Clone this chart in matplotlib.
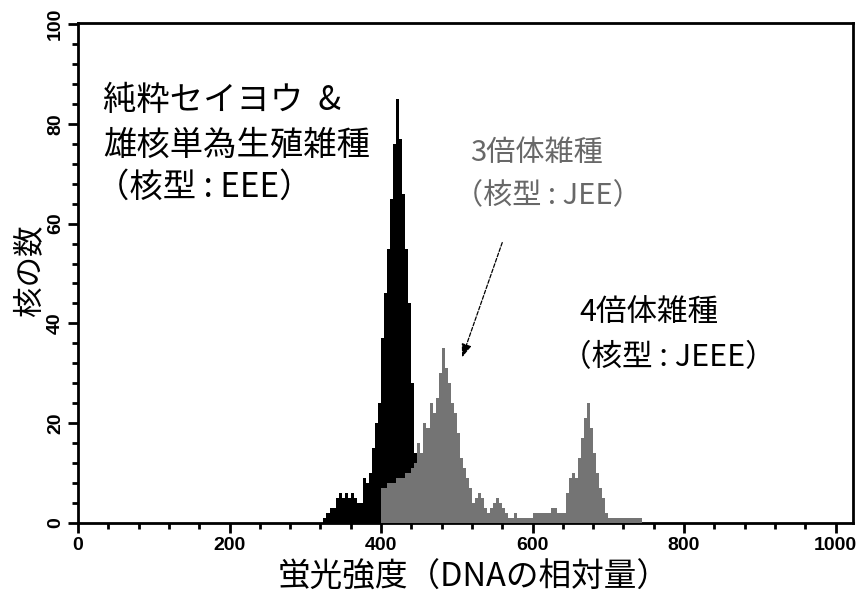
import numpy as np
import matplotlib
matplotlib.use("Agg")
import matplotlib.pyplot as plt
from matplotlib.ticker import MultipleLocator

plt.rcParams['font.family'] = ['Noto Sans CJK JP', 'DejaVu Sans']

# Histogram channels (fluorescence intensity), bin width 4
bin_width = 4

# Pure European pear & androgenetic hybrid (EEE)
eee_start = 324
eee_counts = [1, 2, 3, 3, 5, 6, 5, 6, 5, 6, 5, 4, 4, 9, 8, 10,
              15, 20, 24, 37, 46, 55, 65, 76, 85, 77, 66, 55, 44, 28, 14, 8]

# Triploid (JEE) and tetraploid (JEEE) hybrids
hyb_start = 400
hyb_counts = [7, 7, 8, 8, 8, 9, 9, 9, 10, 10, 11, 12, 16, 14, 20, 19,
              24, 22, 25, 30, 35, 31, 28, 24, 22, 18, 13, 11, 9, 7, 4, 5,
              6, 5, 3, 2, 3, 4, 5, 4, 3, 2, 1, 1, 2, 1, 1, 1,
              1, 1, 2, 2, 2, 2, 2, 2, 3, 3, 2, 2, 2, 6, 9, 10,
              9, 13, 17, 21, 24, 19, 14, 10, 7, 5, 2, 1, 1, 1, 1, 1,
              1, 1, 1, 1, 1, 1]

x_ticks = [0, 200, 400, 600, 800, 1000]
y_ticks = [0, 20, 40, 60, 80, 100]

fig = plt.figure(figsize=(8.6, 5.94), dpi=100)
ax = fig.add_axes([78 / 860, 71 / 594, 775 / 860, 500 / 594])

eee_edges = eee_start + bin_width * np.arange(len(eee_counts) + 1)
hyb_edges = hyb_start + bin_width * np.arange(len(hyb_counts) + 1)
ax.stairs(eee_counts, eee_edges, fill=True, color='black', zorder=2)
ax.stairs(hyb_counts, hyb_edges, fill=True, color='#747474', zorder=3)

ax.set_xlim(0, 1023)
ax.set_ylim(0, 100.2)
ax.set_xticks(x_ticks)
ax.set_yticks(y_ticks)
ax.xaxis.set_minor_locator(MultipleLocator(40))
ax.yaxis.set_minor_locator(MultipleLocator(4))
for s in ax.spines.values():
    s.set_linewidth(2)
ax.tick_params(which='major', direction='out', length=7, width=2, pad=3)
ax.tick_params(which='minor', direction='out', length=4, width=2)
for lab in ax.get_xticklabels() + ax.get_yticklabels():
    lab.set_fontfamily('Liberation Sans')
    lab.set_fontweight('bold')
    lab.set_fontsize(14)
for lab in ax.get_yticklabels():
    lab.set_rotation(90)
    lab.set_va('center')

fig.text(30 / 860, 1 - 270 / 594, '核の数', rotation=90, ha='center', va='center', fontsize=22)
fig.text(474 / 860, 1 - 578 / 594, '蛍光強度（DNAの相対量）', ha='center', va='center', fontsize=23.5)

big = dict(fontsize=24, va='center', ha='left')
ax.text(33, 84.6, '純粋セイヨウ  &', color='black', **big)
ax.text(33, 75.6, '雄核単為生殖雑種', color='black', **big)
ax.text(24, 67.2, '（核型 : EEE）', color='black', **big)

grey = dict(fontsize=21, va='center', ha='left', color='#686868')
ax.text(517, 74.2, '3倍体雑種', **grey)
ax.text(496, 65.4, '（核型 : JEE）', **grey)

mid = dict(fontsize=22, va='center', ha='left', color='black')
ax.text(662, 42.2, '4倍体雑種', **mid)
ax.text(637, 33.2, '（核型 : JEEE）', **mid)

ax.annotate('', xy=(507, 33.2), xytext=(560, 56.2),
            arrowprops=dict(arrowstyle='-|>,head_length=0.8,head_width=0.3',
                            color='black', lw=0.9, linestyle=(0, (3, 1.5)),
                            shrinkA=0, shrinkB=0))

fig.savefig('out.png', dpi=100)
